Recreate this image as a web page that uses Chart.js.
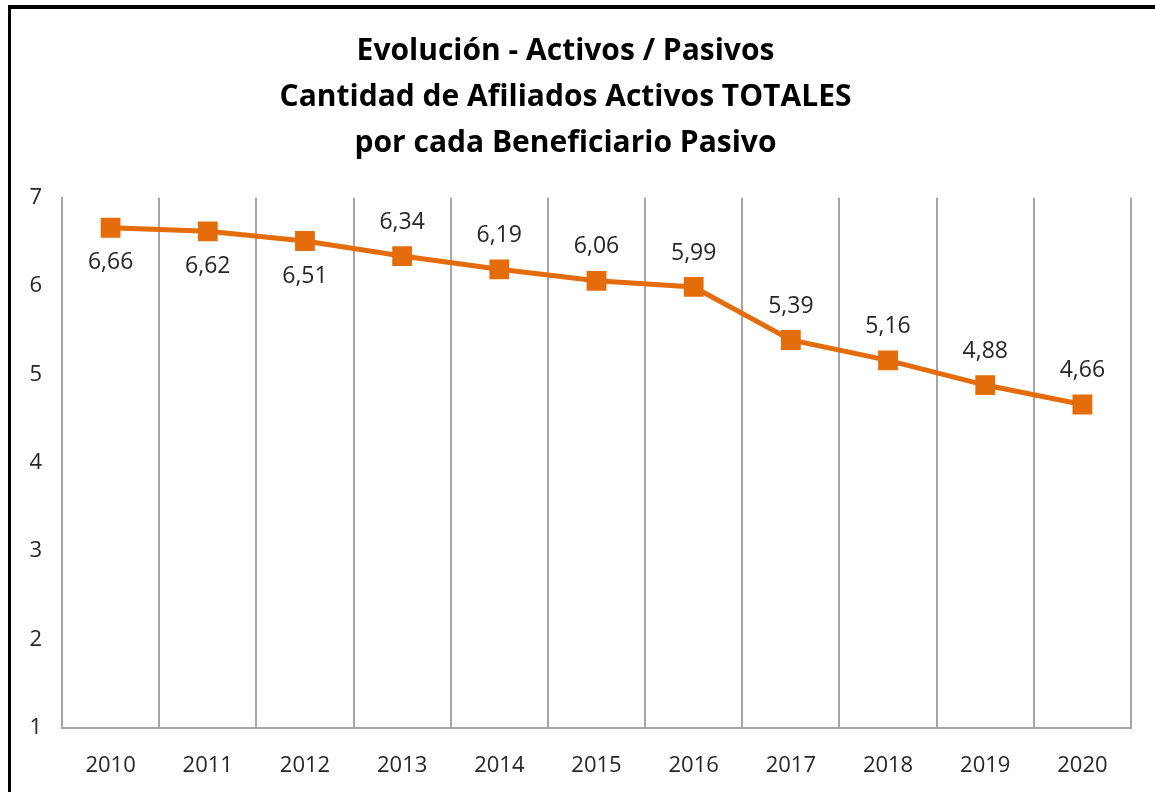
<!DOCTYPE html>
<html>
<head>
<meta charset="utf-8">
<script src="https://cdn.jsdelivr.net/npm/chart.js@4"></script>
<style>
  html, body { margin: 0; padding: 0; background: #fff; }
  #wrap { position: relative; width: 1155px; height: 792px; overflow: hidden; }
  #marco { position: absolute; left: 8px; top: 5px; width: 1300px; height: 900px;
           border-left: 3px solid #000; border-top: 4px solid #000; }
  #grafico { position: absolute; left: 0; top: 0; }
</style>
</head>
<body>
<div id="wrap">
  <div id="marco"></div>
  <canvas id="grafico" width="1155" height="792"></canvas>
</div>
<script>
// Datos
const anios = ['2010', '2011', '2012', '2013', '2014', '2015', '2016', '2017', '2018', '2019', '2020'];
const activosPorPasivo = [6.66, 6.62, 6.51, 6.34, 6.19, 6.06, 5.99, 5.39, 5.16, 4.88, 4.66];
const ticksY = [1, 2, 3, 4, 5, 6, 7];
const titulo = ['Evolución - Activos / Pasivos', 'Cantidad de Afiliados Activos TOTALES', 'por cada Beneficiario Pasivo'];

const naranja = '#E46C0A';
const fuente = '"Open Sans", "DejaVu Sans", sans-serif';

// Etiquetas de valores sobre/debajo de cada punto
const etiquetas = {
  id: 'etiquetas',
  afterDatasetsDraw(chart) {
    const ctx = chart.ctx;
    const meta = chart.getDatasetMeta(0);
    ctx.save();
    ctx.font = '23px ' + fuente;
    ctx.fillStyle = '#262626';
    ctx.textAlign = 'center';
    ctx.textBaseline = 'middle';
    meta.data.forEach((pt, i) => {
      const v = chart.data.datasets[0].data[i];
      const dy = i < 3 ? 35 : -34;
      ctx.fillText(v.toFixed(2).replace('.', ','), pt.x, pt.y + dy);
    });
    ctx.restore();
  }
};

new Chart(document.getElementById('grafico'), {
  type: 'line',
  data: {
    labels: anios,
    datasets: [{
      data: activosPorPasivo,
      borderColor: naranja,
      backgroundColor: naranja,
      borderWidth: 5,
      pointStyle: 'rect',
      pointRadius: 14,
      pointBackgroundColor: naranja,
      pointBorderWidth: 0,
      tension: 0
    }]
  },
  options: {
    responsive: false,
    animation: false,
    layout: { padding: { left: 0, right: 24, top: 0, bottom: 0 } },
    plugins: {
      legend: { display: false },
      tooltip: { enabled: false },
      title: {
        display: true,
        text: titulo,
        color: '#000',
        font: { family: fuente, size: 30, weight: 'bold', lineHeight: 1.53 },
        padding: { top: 29, bottom: 31 }
      }
    },
    scales: {
      x: {
        offset: true,
        grid: { display: true, offset: true, color: '#A6A6A6', lineWidth: 2, drawTicks: false },
        border: { display: true, color: '#A6A6A6', width: 2 },
        ticks: { color: '#262626', font: { family: fuente, size: 22 }, padding: 25 },
        afterFit(scale) { scale.height = 64; }
      },
      y: {
        min: 1,
        max: 7,
        afterBuildTicks(scale) { scale.ticks = ticksY.map(v => ({ value: v })); },
        grid: { display: false },
        border: { display: true, color: '#A6A6A6', width: 2 },
        ticks: { color: '#262626', font: { family: fuente, size: 22 }, padding: 12 },
        afterFit(scale) { scale.width = 62; }
      }
    }
  },
  plugins: [etiquetas]
});
</script>
</body>
</html>
